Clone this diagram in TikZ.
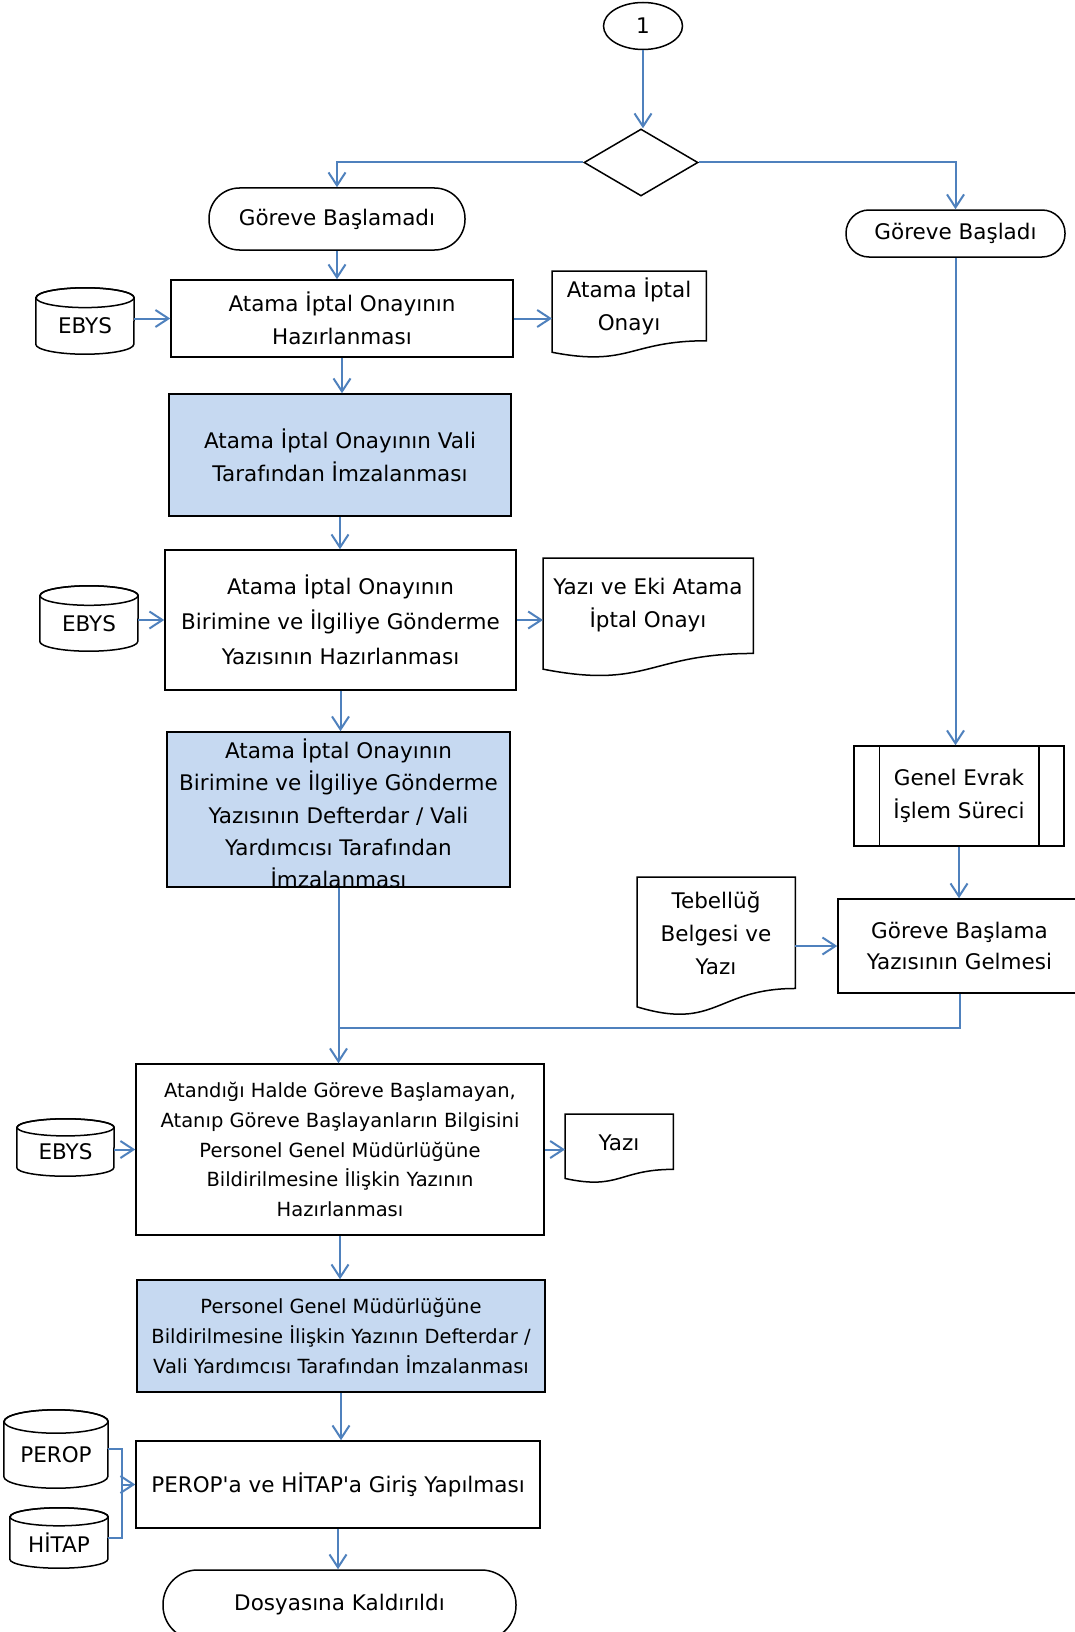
\documentclass[tikz,border=0pt]{standalone}
\usepackage{fontspec}
\setmainfont{DejaVu Sans}
\usetikzlibrary{arrows.meta,shapes.geometric,calc}
\definecolor{lineblue}{RGB}{79,129,189}
\definecolor{boxblue}{RGB}{198,217,241}
\newcommand\fsA{\fontsize{21.5}{33}\selectfont}
\newcommand\fsB{\fontsize{19.5}{29.7}\selectfont}
\newcommand\fsC{\fontsize{21.5}{35}\selectfont}
\tikzset{
  shp/.style={draw=black, line width=1.5pt},
  box/.style={shp, rectangle, inner sep=0pt, align=center, font=\fsA},
  bluebox/.style={box, fill=boxblue},
  txt/.style={inner sep=0pt, align=center, font=\fsA},
  wire/.style={draw=lineblue, line width=2pt},
  conn/.style={wire, -{Straight Barb[length=13pt,width=17pt]}},
}
% cylinder: name, cx, cy (down), w, h, text
\newcommand\cylnode[6]{%
  \node[inner sep=0pt, minimum width=#4, minimum height=#5] (#1) at (#2,-#3) {};
  \pgfmathsetmacro\cylry{0.15*#5}%
  \pgfmathsetmacro\cylrx{#4/2}%
  \draw[shp, fill=white] ($(#1.north west)+(0,-\cylry)$) -- ($(#1.south west)+(0,\cylry)$)
    arc[start angle=180, end angle=360, x radius=\cylrx, y radius=\cylry]
    -- ($(#1.north east)+(0,-\cylry)$)
    arc[start angle=0, end angle=180, x radius=\cylrx, y radius=\cylry] -- cycle;
  \draw[shp] ($(#1.north)+(0,-\cylry)$) ellipse[x radius=\cylrx, y radius=\cylry];
  \node[txt] (#1-t) at ($(#1.center)+(0,-\cylry/2)$) {#6};
}
% document: name, xleft, top, w, h, text centre y, text
\newcommand\docnode[7]{%
  \node[inner sep=0pt, minimum width=#4, minimum height=#5, anchor=north west] (#1) at (#2,-#3) {};
  \draw[shp, fill=white] (#1.north west) -- (#1.north east) -- ($(#1.north east)+(0,-0.802*#5)$)
    .. controls ($(#1.north)+(0,-0.802*#5)$) and ($(#1.north)+(0,-1.107*#5)$) ..
    ($(#1.north west)+(0,-0.934*#5)$) -- cycle;
  \node[txt] (#1-t) at ({#2+#4/2},-#6) {#7};
}
\begin{document}
\begin{tikzpicture}[x=1pt,y=1pt]
\fill[white] (0,0) rectangle (1075,-1632);
\useasboundingbox (0,0) rectangle (1075,-1632);

% top
\node[shp, ellipse, minimum width=79, minimum height=47, inner sep=0pt, font=\fsA] (c1) at (643,-26) {1};
\node[shp, diamond, minimum width=114, minimum height=67, inner sep=0pt] (dia) at (641,-162.5) {};

% terminators
\node[box, rounded corners=30.5, minimum width=256, minimum height=62] (t1) at (337,-219) {Göreve Başlamadı};
\node[box, rounded corners=23, minimum width=219, minimum height=47] (t2) at (955.5,-233.5) {Göreve Başladı};

% left column
\node[box, minimum width=342, minimum height=77] (b1) at (342,-318.5) {Atama İptal Onayının\\Hazırlanması};
\cylnode{db1}{85}{321}{98}{66}{EBYS}
\docnode{doc1}{552}{271}{154}{87}{306}{Atama İptal\\Onayı}

\node[bluebox, minimum width=342, minimum height=122] (b2) at (340,-455) {Atama İptal Onayının Vali\\Tarafından İmzalanması};

\node[box, font=\fsC, minimum width=351, minimum height=140] (b3) at (340.5,-620) {Atama İptal Onayının\\Birimine ve İlgiliye Gönderme\\Yazısının Hazırlanması};
\cylnode{db2}{89}{618.5}{98}{65}{EBYS}
\docnode{doc2}{543}{558}{210}{119}{605.5}{Yazı ve Eki Atama\\İptal Onayı}

\node[bluebox, minimum width=343, minimum height=155] (b4) at (338.5,-809.5) {};
\node[txt, font=\fontsize{21.5}{32.3}\selectfont] (b4-t) at (338.5,-813.5) {Atama İptal Onayının\\Birimine ve İlgiliye Gönderme\\Yazısının Defterdar / Vali\\Yardımcısı Tarafından\\İmzalanması};

% right column
\node[box, minimum width=210, minimum height=100] (gen) at (959,-796) {Genel Evrak\\İşlem Süreci};
\draw[shp] ([xshift=26]gen.north west) -- ([xshift=26]gen.south west);
\draw[shp] ([xshift=-26]gen.north east) -- ([xshift=-26]gen.south east);

\node[box, font=\fontsize{21.5}{31.6}\selectfont, minimum width=243, minimum height=94] (gb) at (959.5,-946) {Göreve Başlama\\Yazısının Gelmesi};
\docnode{doc4}{637}{877}{158}{139}{933.5}{Tebellüğ\\Belgesi ve\\Yazı}

% lower part
\node[box, font=\fsB, minimum width=408, minimum height=171] (b5) at (340,-1149.5) {Atandığı Halde Göreve Başlamayan,\\Atanıp Göreve Başlayanların Bilgisini\\Personel Genel Müdürlüğüne\\Bildirilmesine İlişkin Yazının\\Hazırlanması};
\cylnode{db3}{65.5}{1147.5}{97}{57}{EBYS}
\docnode{doc3}{565}{1114}{108}{69}{1143}{Yazı}

\node[bluebox, font=\fsB, minimum width=408, minimum height=112] (b6) at (341,-1336) {Personel Genel Müdürlüğüne\\Bildirilmesine İlişkin Yazının Defterdar /\\Vali Yardımcısı Tarafından İmzalanması};

\node[box, minimum width=404, minimum height=87] (b7) at (338,-1484.5) {PEROP\textquotesingle a ve HİTAP\textquotesingle a Giriş Yapılması};
\cylnode{perop}{56}{1449}{104}{78}{PEROP}
\cylnode{hitap}{59}{1538}{98}{60}{HİTAP}

\node[box, rounded corners=34.5, minimum width=353, minimum height=70] (t3) at (339.5,-1605) {Dosyasına Kaldırıldı};

% connectors
\draw[conn] (c1) -- (c1 |- dia.north);
\draw[conn] (dia.west) -| (t1.north);
\draw[conn] (dia.east) -| (t2.north);
\draw[conn] (t1) -- (t1 |- b1.north);
\draw[conn] (b1) -- (b1 |- b2.north);
\draw[conn] (b2) -- (b2 |- b3.north);
\draw[conn] (b3) -- (b3 |- b4.north);
\draw[conn] (db1.east |- b1.west) -- (b1.west);
\draw[conn] (b1.east) -- (b1.east -| doc1.west);
\draw[conn] (db2.east |- b3.west) -- (b3.west);
\draw[conn] (b3.east) -- (b3.east -| doc2.west);

\draw[conn] (t2) -- (t2 |- gen.north);
\draw[conn] (gen) -- (gen |- gb.north);
\draw[conn] (doc4.east |- gb.west) -- (gb.west);

\coordinate (m) at (339,-1028);
\draw[conn] (b4.south) -- (b4.south |- b5.north);
\draw[wire] (gb.south) |- (m);

\draw[conn] (db3.east |- b5.west) -- (b5.west);
\draw[conn] (b5.east) -- (b5.east -| doc3.west);
\draw[conn] (b5) -- (b5 |- b6.north);
\draw[conn] (b6) -- (b6 |- b7.north);
\draw[conn] (b7) -- (b7 |- t3.north);

\coordinate (br) at (122,-1484.5);
\draw[wire] (perop.east) -| (br) |- (hitap.east);
\draw[conn] (br) -- (br -| b7.west);
\end{tikzpicture}
\end{document}
